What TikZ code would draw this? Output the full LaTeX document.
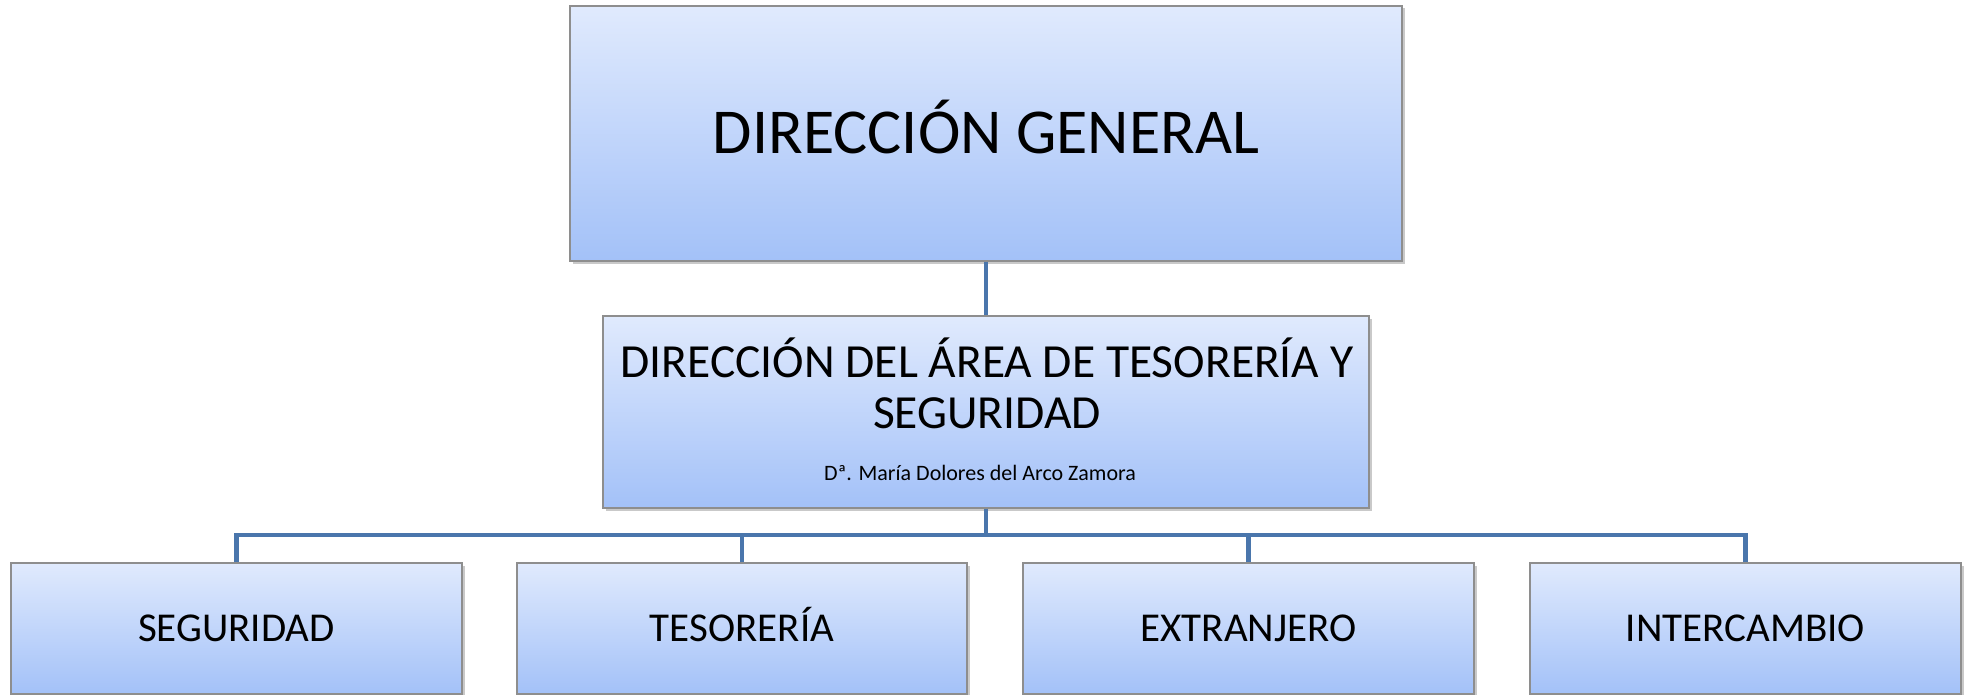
\documentclass[tikz,border=0pt]{standalone}
\usepackage{fontspec}
\setmainfont{Carlito}
\usetikzlibrary{shadows}
\definecolor{boxtop}{HTML}{E0EAFD}
\definecolor{boxbot}{HTML}{A3C1F8}
\definecolor{boxline}{HTML}{8E8E8E}
\definecolor{connblue}{HTML}{4A76AC}
\tikzset{
  orgbox/.style={rectangle, draw=boxline, line width=1.4pt, top color=boxtop, bottom color=boxbot,
    drop shadow={shadow xshift=2.5pt, shadow yshift=-2.5pt, opacity=0.3, fill=black!70},
    inner sep=0pt, text=black},
  topbox/.style={orgbox, minimum width=832pt, minimum height=255pt,
    font=\fontsize{64}{70}\selectfont, text height=41pt, text depth=0pt},
  midbox/.style={orgbox, minimum width=766pt, minimum height=192pt},
  leafbox/.style={orgbox, minimum height=131pt,
    font=\fontsize{41}{46}\selectfont, text height=26pt, text depth=0pt},
  midtext/.style={anchor=base, inner sep=0pt, font=\fontsize{47.5}{52}\selectfont},
  smalltext/.style={anchor=base, inner sep=0pt, font=\fontsize{22}{26}\selectfont},
  conn/.style={draw=connblue, line width=4.6pt, line join=miter, line cap=butt}
}
\begin{document}
\begin{tikzpicture}[x=1pt,y=-1pt]
\useasboundingbox (0,0) rectangle (1970,695);
\coordinate (bus) at (986,535);
\node[topbox] (dg) at (986,133.5) {DIRECCIÓN GENERAL};
\node[midbox] (mid) at (986,412) {};
\node[midtext] (mid1) at (987,377) {DIRECCIÓN DEL ÁREA DE TESORERÍA Y};
\node[midtext] (mid2) at (987,428) {SEGURIDAD};
\node[smalltext] (mid3) at (980,480) {Dª. María Dolores del Arco Zamora};
\node[leafbox, minimum width=451pt] (b1) at (236.5,628.5) {SEGURIDAD};
\node[leafbox, minimum width=450pt] (b2) at (742,628.5) {TESORERÍA};
\node[leafbox, minimum width=451pt] (b3) at (1248.5,628.5) {EXTRANJERO};
\node[leafbox, minimum width=431pt] (b4) at (1745.5,628.5) {INTERCAMBIO};
\draw[conn] (dg.south) -- (mid.north);
\draw[conn] (mid.south) -- (mid.south |- bus);
\draw[conn] (b1.north) -- (b1.north |- bus) -- (b4.north |- bus) -- (b4.north);
\draw[conn] (b2.north) -- (b2.north |- bus);
\draw[conn] (b3.north) -- (b3.north |- bus);
\end{tikzpicture}
\end{document}
